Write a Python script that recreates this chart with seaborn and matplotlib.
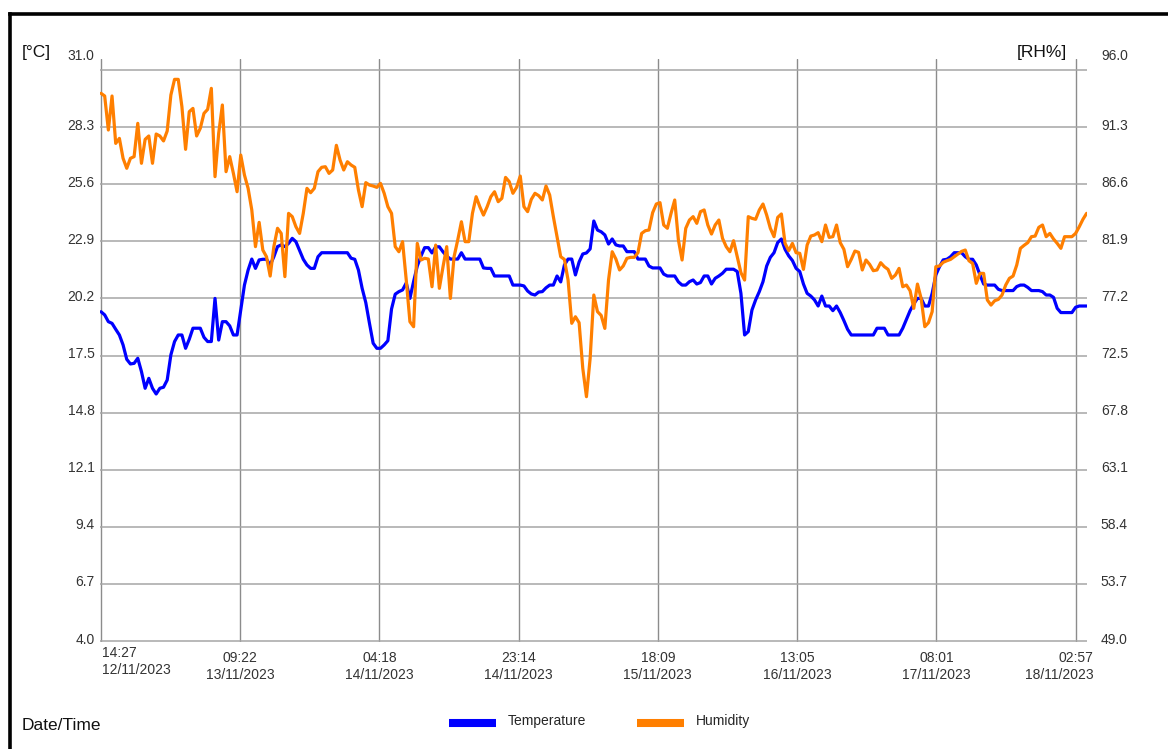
import numpy as np
import pandas as pd
import matplotlib
matplotlib.use("Agg")
import matplotlib.pyplot as plt
import matplotlib.transforms as mtransforms
from matplotlib.lines import Line2D
import seaborn as sns

# ---------------- data ----------------
start_time = "12/11/2023 14:27"
interval_minutes = 30

temperature = [
    19.57, 19.42, 19.10, 19.02, 18.74, 18.47, 18.00, 17.32, 17.10, 17.13,
    17.37, 16.74, 15.95, 16.42, 15.95, 15.68, 15.95, 16.00, 16.34, 17.53,
    18.16, 18.47, 18.47, 17.84, 18.27, 18.79, 18.79, 18.79, 18.36, 18.16,
    18.16, 20.20, 18.23, 19.10, 19.10, 18.90, 18.47, 18.47, 19.65, 20.83,
    21.54, 22.06, 21.62, 22.02, 22.05, 22.05, 21.78, 22.17, 22.65, 22.73,
    22.65, 22.80, 23.04, 22.88,
    22.46, 22.05, 21.78, 21.62, 21.62, 22.17, 22.36, 22.36, 22.36, 22.36,
    22.36, 22.36, 22.36, 22.36, 22.10, 22.05, 21.54, 20.68, 20.00, 19.02,
    18.08, 17.84, 17.84, 18.00, 18.20, 19.70, 20.40, 20.52, 20.60, 20.93,
    20.20, 21.00, 21.73, 22.20, 22.60, 22.60, 22.35, 22.64, 22.64, 22.40,
    22.20, 22.06, 22.06, 22.06, 22.36, 22.06, 22.06, 22.06, 22.06, 22.06,
    21.64, 21.62, 21.62, 21.26,
    21.26, 21.26, 21.26, 21.26, 20.83, 20.83, 20.83, 20.79, 20.55, 20.41,
    20.36, 20.50, 20.52, 20.70, 20.83, 20.83, 21.26, 20.98, 21.78, 22.06,
    22.06, 21.31, 21.92, 22.30, 22.35, 22.54, 23.86, 23.43, 23.35, 23.20,
    22.77, 23.01, 22.73, 22.68, 22.68, 22.41, 22.41, 22.41, 22.06, 22.06,
    22.06, 21.73, 21.64, 21.64, 21.64, 21.35, 21.26, 21.26, 21.26, 20.98,
    20.83, 20.83,
    20.99, 21.07, 20.88, 20.95, 21.26, 21.26, 20.88, 21.15, 21.26, 21.39,
    21.58, 21.58, 21.58, 21.47, 20.44, 18.47, 18.63, 19.65, 20.13, 20.52,
    20.99, 21.73, 22.14, 22.36, 22.84, 23.01, 22.52, 22.21, 21.99, 21.62,
    21.47, 20.88, 20.44, 20.31, 20.13, 19.84, 20.31, 19.84, 19.84, 19.62,
    19.84, 19.53, 19.15, 18.74, 18.47, 18.47, 18.47, 18.47, 18.47, 18.47,
    18.47, 18.79, 18.79, 18.79,
    18.47, 18.47, 18.47, 18.47, 18.79, 19.21, 19.62, 19.94, 20.20, 20.20,
    19.84, 19.84, 20.44, 21.31, 21.70, 22.02, 22.05, 22.17, 22.36, 22.36,
    22.36, 22.17, 22.05, 22.05, 21.78, 21.31, 20.88, 20.83, 20.83, 20.83,
    20.63, 20.57, 20.57, 20.57, 20.57, 20.76, 20.83, 20.83, 20.72, 20.57,
    20.57, 20.57, 20.52, 20.36, 20.36, 20.25, 19.73, 19.53, 19.53, 19.53,
    19.53, 19.78, 19.84, 19.84, 19.84,
]

humidity = [
    94.08, 93.86, 91.06, 93.86, 89.96, 90.37, 88.73, 87.91, 88.73, 88.87,
    91.61, 88.32, 90.29, 90.57, 88.32, 90.73, 90.57, 90.16, 90.98, 93.94,
    95.23, 95.23, 92.98, 89.47, 92.57, 92.84, 90.57, 91.20, 92.43, 92.76,
    94.49, 87.22, 90.79, 93.12, 87.63, 88.87, 87.49, 85.98, 89.00, 87.36,
    86.26, 84.48, 81.46, 83.46, 81.18, 80.63, 79.04, 81.46, 82.97, 82.55,
    78.99, 84.20, 83.93, 83.10,
    82.55, 84.20, 86.26, 85.90, 86.26, 87.63, 87.99, 88.04, 87.49, 87.77,
    89.80, 88.59, 87.77, 88.45, 88.18, 87.99, 86.12, 84.75, 86.73, 86.53,
    86.45, 86.34, 86.67, 85.85, 84.75, 84.20, 81.46, 81.04, 81.87, 78.71,
    75.28, 74.87, 81.73, 80.36, 80.50, 80.44, 78.16, 81.59, 78.03, 79.81,
    81.46, 77.20, 80.63, 82.01, 83.51, 81.87, 81.87, 84.20, 85.57, 84.75,
    84.06, 84.75, 85.57, 85.98,
    85.16, 85.44, 87.16, 86.81, 85.85, 86.34, 87.27, 84.75, 84.34, 85.35,
    85.85, 85.66, 85.30, 86.45, 85.71, 83.93, 82.28, 80.63, 80.41, 78.71,
    75.15, 75.69, 75.20, 71.44, 69.11, 72.26, 77.48, 76.11, 75.80, 74.73,
    78.71, 81.04, 80.44, 79.54, 79.87, 80.50, 80.58, 80.58, 80.96, 82.55,
    82.77, 82.83, 84.26, 84.97, 85.08, 83.24, 82.97, 84.20, 85.30, 82.01,
    80.36, 82.97,
    83.65, 83.93, 83.38, 84.34, 84.48, 83.24, 82.50, 83.24, 83.65, 82.14,
    81.46, 81.04, 81.95, 80.63, 79.32, 78.71, 83.93, 83.79, 83.71, 84.48,
    84.97, 84.06, 82.97, 82.28, 83.87, 84.15, 81.73, 81.13, 81.73, 80.96,
    80.91, 79.59, 81.59, 82.33, 82.42, 82.61, 81.87, 83.24, 82.22, 82.28,
    83.24, 81.79, 81.24, 79.81, 80.41, 81.10, 80.99, 79.54, 80.36, 80.00,
    79.48, 79.54, 80.14, 79.81,
    79.59, 78.85, 79.12, 79.67, 78.16, 78.30, 77.83, 76.38, 78.38, 77.20,
    74.87, 75.20, 76.11, 79.81, 79.87, 80.17, 80.30, 80.41, 80.63, 80.85,
    81.07, 81.18, 80.30, 80.08, 78.44, 79.26, 79.26, 77.07, 76.65, 77.01,
    77.12, 77.48, 78.30, 78.85, 79.04, 79.95, 81.32, 81.57, 81.79, 82.28,
    82.33, 83.05, 83.24, 82.28, 82.55, 82.09, 81.73, 81.32, 82.28, 82.28,
    82.28, 82.55, 83.10, 83.71, 84.20,
]

tick_labels = [
    "14:27\n12/11/2023", "09:22\n13/11/2023", "04:18\n14/11/2023",
    "23:14\n14/11/2023", "18:09\n15/11/2023", "13:05\n16/11/2023",
    "08:01\n17/11/2023", "02:57\n18/11/2023",
]
temp_ticks = [4.0, 6.7, 9.4, 12.1, 14.8, 17.5, 20.2, 22.9, 25.6, 28.3, 31.0]
hum_ticks = [49.0, 53.7, 58.4, 63.1, 67.8, 72.5, 77.2, 81.9, 86.6, 91.3, 96.0]
series_names = ["Temperature", "Humidity"]

# ---------------- style ----------------
sns.set_style("white")
plt.rcParams["font.family"] = ["Liberation Sans", "DejaVu Sans"]

TEMP_COLOR = "#0000ff"
HUM_COLOR = "#ff7f00"
W, H = 1168, 749

t0 = pd.to_datetime(start_time, format="%d/%m/%Y %H:%M")
times = t0 + pd.to_timedelta(np.arange(len(temperature)) * interval_minutes, unit="m")
df = pd.DataFrame({"time": times, "Temperature": temperature, "Humidity": humidity})

tick_times = [pd.to_datetime(l.split("\n")[1] + " " + l.split("\n")[0],
                             format="%d/%m/%Y %H:%M") for l in tick_labels]

fig = plt.figure(figsize=(W / 100, H / 100), dpi=100)
# axes box in pixels: x 100..1087, y 59..641.5
ax = fig.add_axes([100 / W, (H - 641.5) / H, (1087 - 100) / W, (641.5 - 59) / H])

sns.lineplot(data=df, x="time", y="Temperature", ax=ax, color=TEMP_COLOR,
             linewidth=2.3, legend=False)
ax2 = ax.twinx()
sns.lineplot(data=df, x="time", y="Humidity", ax=ax2, color=HUM_COLOR,
             linewidth=2.3, legend=False)

# scales
min_per_px = (tick_times[1] - tick_times[0]).total_seconds() / 60 / 139.14
ax.set_xlim(t0 - pd.Timedelta(minutes=min_per_px),
            t0 + pd.Timedelta(minutes=min_per_px * 986))
px_per_deg = 571 / 27.0
y_lo = 4.0 - 0.5 / px_per_deg
y_hi = y_lo + 582.5 / px_per_deg
ax.set_ylim(y_lo, y_hi)
k = (hum_ticks[-1] - hum_ticks[0]) / (temp_ticks[-1] - temp_ticks[0])
ax2.set_ylim(hum_ticks[0] + (y_lo - temp_ticks[0]) * k, hum_ticks[0] + (y_hi - temp_ticks[0]) * k)

for a in (ax, ax2):
    for s in a.spines.values():
        s.set_visible(False)
    a.set_xlabel("")
    a.set_ylabel("")

ax.set_yticks(temp_ticks)
ax.set_yticklabels([f"{v:.1f}" for v in temp_ticks])
ax2.set_yticks(hum_ticks)
ax2.set_yticklabels([f"{v:.1f}" for v in hum_ticks])
ax.set_xticks(tick_times)
ax.set_xticklabels(tick_labels)

ax.tick_params(axis="y", length=0, pad=4, labelsize=10, labelcolor="#333333")
ax2.tick_params(axis="y", length=0, pad=10, labelsize=10, labelcolor="#333333")
ax.tick_params(axis="x", length=0, pad=7, labelsize=10, labelcolor="#333333")

ax.yaxis.grid(True, color="#a6a6a6", linewidth=1.1)
ax.xaxis.grid(True, color="#8c8c8c", linewidth=1.0)
ax2.grid(False)
ax.set_axisbelow(True)


def shift(label, dx, dy):
    label.set_transform(label.get_transform() +
                        mtransforms.ScaledTranslation(dx / 100, dy / 100, fig.dpi_scale_trans))


ylabs = ax.get_yticklabels()
for i, lab in enumerate(ylabs):
    shift(lab, 0, 16 if i == len(ylabs) - 1 else 3)
ylabs2 = ax2.get_yticklabels()
for i, lab in enumerate(ylabs2):
    shift(lab, 0, 15 if i == len(ylabs2) - 1 else 3)

xlabs = ax.get_xticklabels()
for i, lab in enumerate(xlabs):
    lab.set_linespacing(1.25)
    if i == 0:
        lab.set_horizontalalignment("left")
        lab.set_multialignment("left")
        shift(lab, 1, 5)
    elif i == len(xlabs) - 1:
        lab.set_horizontalalignment("right")
        lab.set_multialignment("right")
        shift(lab, 18, 0)
    else:
        lab.set_multialignment("center")

# axis unit captions
fig.text(22 / W, 1 - 53 / H, "[°C]", fontsize=12.5, ha="left", va="center", color="#111111")
fig.text(1067 / W, 1 - 53 / H, "[RH%]", fontsize=12.5, ha="right", va="center", color="#111111")
fig.text(22 / W, 1 - 725 / H, "Date/Time", fontsize=12.5, ha="left", va="center", color="#111111")

# legend
handles = [Line2D([], [], color=TEMP_COLOR, lw=5.8, solid_capstyle="butt"),
           Line2D([], [], color=HUM_COLOR, lw=5.8, solid_capstyle="butt")]
leg = fig.legend(handles, series_names, loc="center left",
                 bbox_to_anchor=(449 / W, 1 - 724 / H), ncol=2, frameon=False,
                 fontsize=10, handlelength=3.4, handletextpad=0.8, columnspacing=3.7,
                 borderpad=0, borderaxespad=0)
for t in leg.get_texts():
    shift(t, 0, 3)

# page frame (top and left black border)
fig.add_artist(Line2D([10 / W, 1.0], [1 - 13.5 / H, 1 - 13.5 / H],
                      transform=fig.transFigure, color="black", lw=2.6,
                      solid_capstyle="projecting"))
fig.add_artist(Line2D([10 / W, 10 / W], [0.0, 1 - 13.5 / H],
                      transform=fig.transFigure, color="black", lw=2.6,
                      solid_capstyle="projecting"))

fig.savefig("out.png", dpi=100)
